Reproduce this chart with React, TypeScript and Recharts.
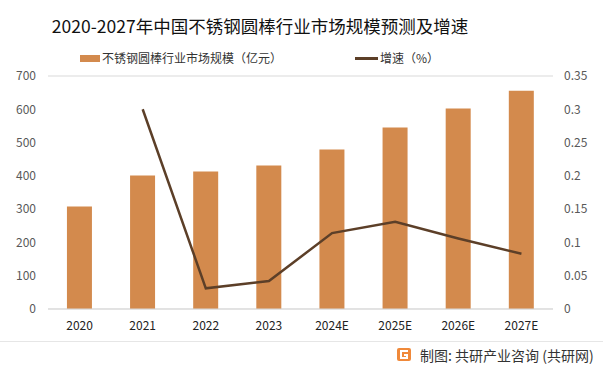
import React from "react"
import { Bar, ComposedChart, Line, XAxis, YAxis, CartesianGrid } from "recharts"

const years = ["2020", "2021", "2022", "2023", "2024E", "2025E", "2026E", "2027E"]
const marketSize = [308, 401, 413, 431, 479, 545, 602, 656]
const growth = [null, 0.3, 0.031, 0.042, 0.114, 0.131, 0.106, 0.083]
const leftTicks = [0, 100, 200, 300, 400, 500, 600, 700]
const rightTicks = [0, 0.05, 0.1, 0.15, 0.2, 0.25, 0.3, 0.35]

const data = years.map((name, i) => ({ name, size: marketSize[i], growth: growth[i] }))

const font = "'Noto Sans CJK SC', 'Noto Sans', sans-serif"
const barColor = "#d38a4d"
const lineColor = "#5c3f28"

function Logo() {
  return (
    <svg width={14} height={13} viewBox="0 0 14 13" style={{ position: "absolute", left: 397, top: 348 }}>
      <rect x={0} y={0} width={14} height={13} rx={2} fill="#f0893a" />
      <path d="M11 3 H4 V10 H10 V7 H7" stroke="#fff" strokeWidth={2} fill="none" />
    </svg>
  )
}

export default function App() {
  return (
    <div style={{ position: "absolute", left: 0, top: 0, width: 603, height: 374, background: "#fff", fontFamily: font }}>
      <div style={{ position: "absolute", left: 0, width: 520, top: 16, textAlign: "center", fontSize: 17.5, lineHeight: "20px", color: "#111", whiteSpace: "nowrap" }}>
        2020-2027年中国不锈钢圆棒行业市场规模预测及增速
      </div>
      <div style={{ position: "absolute", left: 80, top: 55, width: 20, height: 7, background: barColor }} />
      <div style={{ position: "absolute", left: 102, top: 50, fontSize: 12, lineHeight: "16px", color: "#333", whiteSpace: "nowrap" }}>
        不锈钢圆棒行业市场规模（亿元）
      </div>
      <div style={{ position: "absolute", left: 355, top: 57, width: 23, height: 3, background: lineColor }} />
      <div style={{ position: "absolute", left: 380, top: 50, fontSize: 12, lineHeight: "16px", color: "#333", whiteSpace: "nowrap" }}>
        增速（%）
      </div>
      <ComposedChart width={603} height={374} data={data} margin={{ top: 76, right: 5, bottom: 35, left: 8 }} barCategoryGap="30%">
        <CartesianGrid vertical={false} stroke="#d9d9d9" />
        <XAxis
          dataKey="name"
          height={30}
          tickLine={false}
          axisLine={{ stroke: "#d9d9d9" }}
          tickMargin={6}
          tick={{ fill: "#222", fontSize: 12, fontFamily: font }}
        />
        <YAxis
          yAxisId="left"
          width={40}
          domain={[0, 700]}
          ticks={leftTicks}
          tickLine={false}
          axisLine={false}
          tickMargin={6}
          tick={{ fill: "#595959", fontSize: 12, fontFamily: font }}
        />
        <YAxis
          yAxisId="right"
          orientation="right"
          width={45}
          domain={[0, 0.35]}
          ticks={rightTicks}
          tickLine={false}
          axisLine={false}
          tickMargin={5}
          tick={{ fill: "#595959", fontSize: 12, fontFamily: font, textAnchor: "start" }}
        />
        <Bar yAxisId="left" dataKey="size" fill={barColor} isAnimationActive={false} />
        <Line yAxisId="right" dataKey="growth" stroke={lineColor} strokeWidth={2.5} dot={false} isAnimationActive={false} />
      </ComposedChart>
      <div style={{ position: "absolute", left: 0, top: 341, width: 603, height: 1, background: "#e6e6e6" }} />
      <Logo />
      <div style={{ position: "absolute", left: 420, top: 346, fontSize: 14, lineHeight: "18px", color: "#333", whiteSpace: "nowrap" }}>
        制图: 共研产业咨询 (共研网)
      </div>
    </div>
  )
}
